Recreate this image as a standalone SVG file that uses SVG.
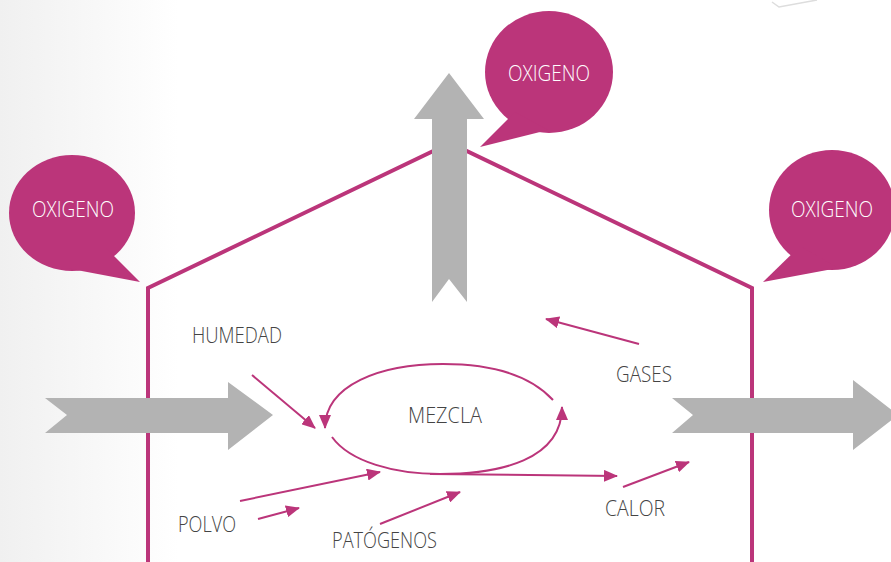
<svg xmlns="http://www.w3.org/2000/svg" width="891" height="562" viewBox="0 0 891 562">
  <defs>
    <linearGradient id="bg" x1="0" y1="0" x2="1" y2="0" gradientUnits="objectBoundingBox">
      <stop offset="0" stop-color="#f0f0f0"/>
      <stop offset="0.2" stop-color="#ffffff"/>
      <stop offset="1" stop-color="#ffffff"/>
    </linearGradient>
    <marker id="ah" viewBox="0 0 14 12" refX="13" refY="6" markerWidth="14" markerHeight="12" markerUnits="userSpaceOnUse" orient="auto">
      <path d="M0,0 L14,6 L0,12 Z" fill="#bb357a"/>
    </marker>
  </defs>
  <style>
    .wall { fill: none; stroke: #bb357a; stroke-width: 4; stroke-linejoin: miter; }
    .bigarrow { fill: #b3b3b3; }
    .bubble { fill: #bb357a; }
    .btext { fill: #ffffff; font-family: "Open Sans", "Liberation Sans", Arial, sans-serif; font-weight: 300; font-size: 22.5px; text-anchor: middle; }
    .label { fill: #444444; font-family: "Open Sans", "Liberation Sans", Arial, sans-serif; font-weight: 300; font-size: 22.5px; }
    .flow { fill: none; stroke: #bb357a; stroke-width: 2; marker-end: url(#ah); }
  </style>

  <rect x="0" y="0" width="891" height="562" fill="url(#bg)"/>
  <polyline points="772,2 779,7 817,0" fill="none" stroke="#dddddd" stroke-width="1.5"/>

  <g id="house">
    <polyline class="wall" points="148,562 148,288 450,143 752,288 752,562"/>
  </g>

  <g id="arrow-in">
    <polygon class="bigarrow" points="45,398 228,398 228,382 273,415 228,450 228,433 45,433 67,415"/>
  </g>
  <g id="arrow-out">
    <polygon class="bigarrow" points="672,398 853,398 853,380 898,415 853,450 853,433 672,433 693,415"/>
  </g>
  <g id="arrow-up">
    <polygon class="bigarrow" points="432,302 432,119 414,119 449,73 484,119 467,119 467,302 449,279"/>
  </g>

  <g id="bubble-left">
    <ellipse class="bubble" cx="72" cy="213" rx="63" ry="58"/>
    <polygon class="bubble" points="106,248 140,282 66,268"/>
    <text class="btext" x="73" y="217" textLength="82" lengthAdjust="spacingAndGlyphs">OXIGENO</text>
  </g>
  <g id="bubble-top">
    <ellipse class="bubble" cx="549" cy="72" rx="64" ry="61"/>
    <polygon class="bubble" points="515,112 480,147 548,130"/>
    <text class="btext" x="549" y="81" textLength="82" lengthAdjust="spacingAndGlyphs">OXIGENO</text>
  </g>
  <g id="bubble-right">
    <ellipse class="bubble" cx="832" cy="210" rx="63" ry="60"/>
    <polygon class="bubble" points="800,246 763,282 838,268"/>
    <text class="btext" x="832" y="217" textLength="82" lengthAdjust="spacingAndGlyphs">OXIGENO</text>
  </g>

  <g id="mezcla">
    <text class="label" x="408" y="423" textLength="74" lengthAdjust="spacingAndGlyphs">MEZCLA</text>
  </g>
  <g id="humedad">
    <text class="label" x="192" y="343" textLength="90" lengthAdjust="spacingAndGlyphs">HUMEDAD</text>
  </g>
  <g id="gases">
    <text class="label" x="616" y="382" textLength="56" lengthAdjust="spacingAndGlyphs">GASES</text>
  </g>
  <g id="calor">
    <text class="label" x="605" y="516" textLength="60" lengthAdjust="spacingAndGlyphs">CALOR</text>
  </g>
  <g id="polvo">
    <text class="label" x="178" y="532" textLength="58" lengthAdjust="spacingAndGlyphs">POLVO</text>
  </g>
  <g id="patogenos">
    <text class="label" x="332" y="548" textLength="105" lengthAdjust="spacingAndGlyphs">PATÓGENOS</text>
  </g>

  <g id="connectors">
    <path class="flow" d="M553,400 C530,375 490,364 443,364 C380,364 325,385 325,428"/>
    <path class="flow" d="M332,437 C350,462 395,474 440,474 C500,474 562,460 562,407"/>
    <path class="flow" d="M430,474 L617,476"/>
    <path class="flow" d="M252,375 L315,428"/>
    <path class="flow" d="M240,501 L380,472"/>
    <path class="flow" d="M258,519 L299,508"/>
    <path class="flow" d="M380,524 L460,492"/>
    <path class="flow" d="M639,344 L546,319"/>
    <path class="flow" d="M623,487 L689,462"/>
  </g>
</svg>
